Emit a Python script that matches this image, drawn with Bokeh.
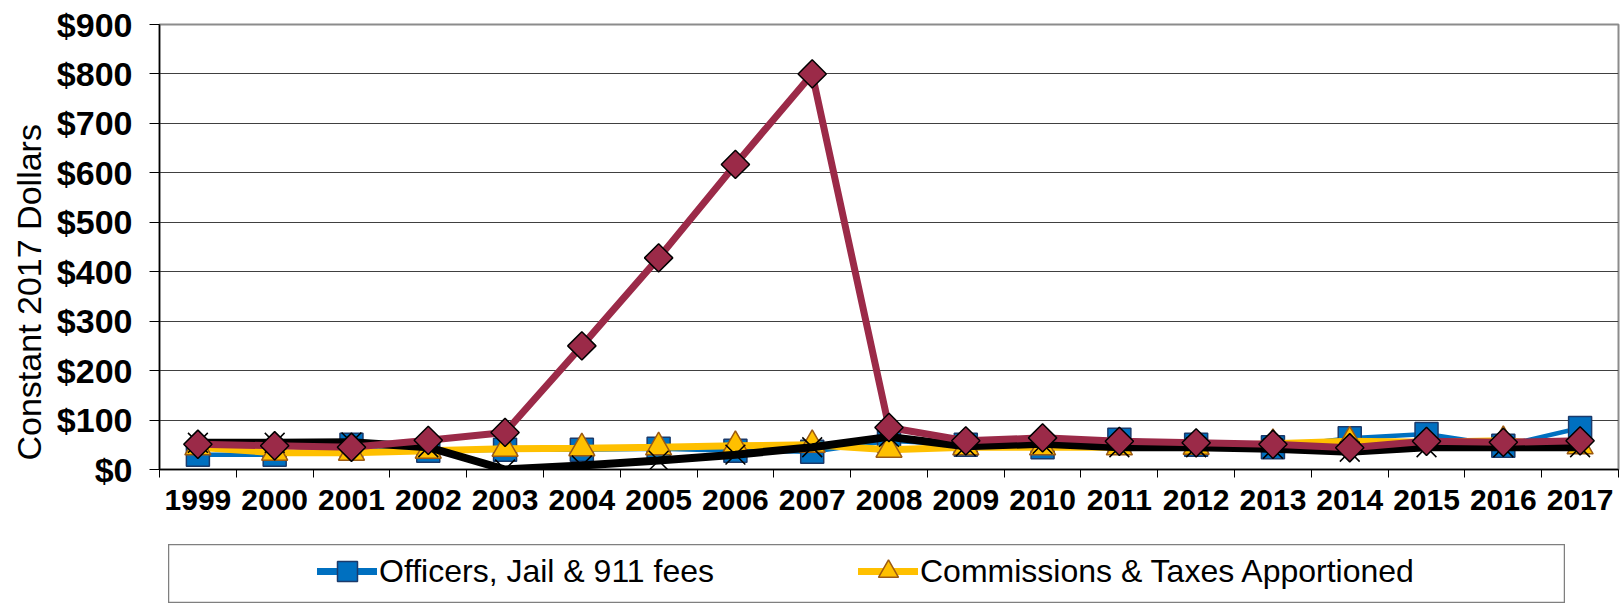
from bokeh.plotting import figure
from bokeh.layouts import column
from bokeh.models import FixedTicker, Legend, LegendItem, Range1d, ColumnDataSource, Title
from bokeh.embed import file_html
from bokeh.resources import INLINE

# ---------------- data ----------------
years = ["1999", "2000", "2001", "2002", "2003", "2004", "2005", "2006", "2007", "2008",
         "2009", "2010", "2011", "2012", "2013", "2014", "2015", "2016", "2017"]
officers_fees = [30, 30, 50, 38, 40, 40, 42, 38, 36, 58, 50, 45, 60, 50, 45, 63, 72, 48, 84]
commissions_taxes = [45, 34, 34, 38, 42, 43, 45, 48, 50, 40, 45, 45, 45, 46, 52, 57, 55, 58, 47]
series_black = [54, 54, 55, 45, 0, 8, 18, 30, 45, 66, 47, 52, 45, 45, 42, 36, 45, 45, 45]
series_red = [51, 48, 45, 59, 75, 250, 428, 617, 800, 85, 58, 64, 57, 54, 51, 44, 57, 55, 58]
y_ticks = [0, 100, 200, 300, 400, 500, 600, 700, 800, 900]
y_tick_labels = ["$0", "$100", "$200", "$300", "$400", "$500", "$600", "$700", "$800", "$900"]
legend_labels = ["Officers, Jail & 911 fees", "Commissions & Taxes Apportioned"]
y_title = "Constant 2017 Dollars"

FONT = "Liberation Sans"
BLUE, BLUE_EDGE = "#0070C0", "#1B3A6B"
YELLOW, YELLOW_EDGE = "#FFC000", "#9C5A12"
RED = "#9B2A48"

xs = list(range(len(years)))
src = ColumnDataSource(dict(x=xs, off=officers_fees, com=commissions_taxes,
                            blk=series_black, red=series_red))

p = figure(width=1620, height=529, output_backend="svg", toolbar_location=None,
           x_range=Range1d(-0.5, len(years) - 0.5), y_range=Range1d(y_ticks[0], y_ticks[-1]),
           min_border_left=159, min_border_top=24, min_border_right=2, min_border_bottom=60)
p.frame_align = False
p.background_fill_color = "white"
p.border_fill_color = "white"
p.outline_line_color = "#8c8c8c"
p.outline_line_width = 2

# axes
xa = p.xaxis[0]
xa.ticker = FixedTicker(ticks=xs, minor_ticks=[i - 0.5 for i in range(len(years) + 1)])
xa.major_label_overrides = {i: y for i, y in enumerate(years)}
xa.major_tick_out = 0
xa.major_tick_in = 0
xa.minor_tick_out = 8
xa.minor_tick_in = 0
xa.minor_tick_line_color = "black"
xa.axis_line_color = "black"
xa.axis_line_width = 1.5
xa.major_label_text_font = FONT
xa.major_label_text_font_style = "bold"
xa.major_label_text_font_size = "30px"
xa.major_label_text_color = "black"
xa.major_label_standoff = 12

ya = p.yaxis[0]
ya.ticker = FixedTicker(ticks=y_ticks, minor_ticks=[])
ya.major_label_overrides = {t: l for t, l in zip(y_ticks, y_tick_labels)}
ya.major_tick_out = 10
ya.major_tick_in = 0
ya.major_tick_line_color = "black"
ya.axis_line_color = "black"
ya.axis_line_width = 1.5
ya.major_label_text_font = FONT
ya.major_label_text_font_style = "bold"
ya.major_label_text_font_size = "34px"
ya.major_label_text_color = "black"
ya.major_label_standoff = 17

ytitle = Title(text=y_title, align="left", offset=9, standoff=12,
               text_font=FONT, text_font_style="normal", text_font_size="34px",
               text_color="black")
p.add_layout(ytitle, "left")

p.xgrid.visible = False
p.ygrid.ticker = FixedTicker(ticks=y_ticks)
p.ygrid.grid_line_color = "#404040"
p.ygrid.grid_line_width = 1.2

# series (drawing order: blue, yellow, black, red)
p.line("x", "off", source=src, line_color=BLUE, line_width=4.5)
p.scatter("x", "off", source=src, marker="square", size=23, fill_color=BLUE,
          line_color=BLUE_EDGE, line_width=1.5)
p.line("x", "com", source=src, line_color=YELLOW, line_width=7)
p.scatter("x", "com", source=src, marker="triangle", size=26, fill_color=YELLOW,
          line_color=YELLOW_EDGE, line_width=1.5)
p.line("x", "blk", source=src, line_color="black", line_width=8)
p.scatter("x", "blk", source=src, marker="x", size=28, line_color="black", line_width=1.5)
p.line("x", "red", source=src, line_color=RED, line_width=7)
p.scatter("x", "red", source=src, marker="square", angle=0.785398, size=20,
          fill_color=RED, line_color="black", line_width=1.5)

# ---------------- legend box ----------------
lg = figure(width=1397, height=59, output_backend="svg", toolbar_location=None,
            x_range=Range1d(0, 1), y_range=Range1d(0, 1), min_border=0,
            x_axis_location=None, y_axis_location=None, margin=(15, 0, 0, 168))
lg.frame_align = False
lg.grid.visible = False
lg.outline_line_color = "#7f7f7f"
lg.outline_line_width = 1.5
lg.background_fill_color = "white"
lg.border_fill_color = "white"

# hidden renderers (same data) that only provide the legend swatches
l1 = lg.line("x", "off", source=src, line_color=BLUE, line_width=7, line_cap="round", visible=False)
m1 = lg.scatter("x", "off", source=src, marker="square", size=20, fill_color=BLUE,
                line_color=BLUE_EDGE, line_width=1.5, visible=False)
l2 = lg.line("x", "com", source=src, line_color=YELLOW, line_width=7, line_cap="round", visible=False)
m2 = lg.scatter("x", "com", source=src, marker="triangle", size=20, fill_color=YELLOW,
                line_color=YELLOW_EDGE, line_width=1.5, visible=False)

legend = Legend(items=[LegendItem(label=legend_labels[0], renderers=[l1, m1]),
                       LegendItem(label=legend_labels[1], renderers=[l2, m2])],
                orientation="horizontal", location=(149, 7),
                glyph_width=60, glyph_height=50, label_standoff=2, label_width=477,
                spacing=2, padding=0, margin=0,
                border_line_alpha=0, background_fill_alpha=0,
                label_text_font=FONT, label_text_font_size="32px",
                label_text_color="black")
lg.add_layout(legend, "center")

layout = column(p, lg, spacing=0)
open("out.html", "w").write(file_html(layout, INLINE))
